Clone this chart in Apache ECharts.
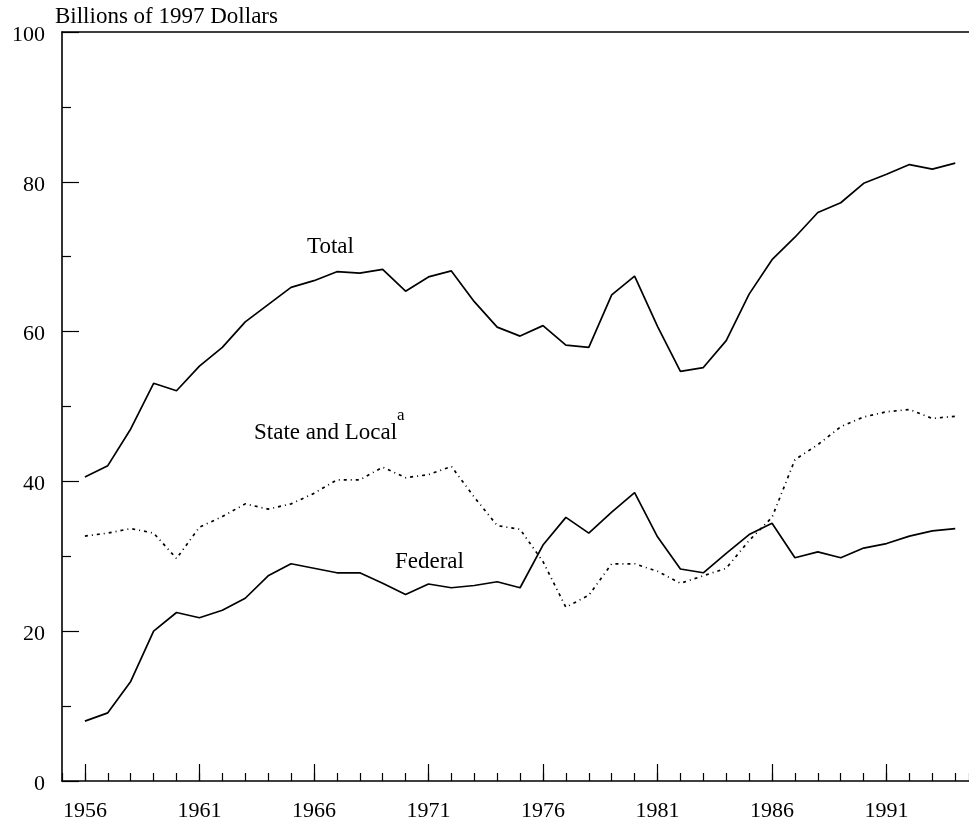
<!DOCTYPE html>
<html>
<head>
<meta charset="utf-8">
<script src="https://cdn.jsdelivr.net/npm/echarts@6/dist/echarts.min.js"></script>
<style>
  html, body { margin: 0; padding: 0; background: #fff; }
  #chart { width: 969px; height: 825px; }
</style>
</head>
<body>
<div id="chart"></div>
<script>
const years = [1956, 1957, 1958, 1959, 1960, 1961, 1962, 1963, 1964, 1965,
  1966, 1967, 1968, 1969, 1970, 1971, 1972, 1973, 1974, 1975,
  1976, 1977, 1978, 1979, 1980, 1981, 1982, 1983, 1984, 1985,
  1986, 1987, 1988, 1989, 1990, 1991, 1992, 1993, 1994];

const total = [40.6, 42.1, 47.0, 53.1, 52.1, 55.4, 57.9, 61.3, 63.6, 65.9,
  66.8, 68.0, 67.8, 68.3, 65.4, 67.3, 68.1, 64.0, 60.6, 59.4,
  60.8, 58.2, 57.9, 64.9, 67.4, 60.7, 54.7, 55.2, 58.8, 65.0,
  69.6, 72.6, 75.9, 77.2, 79.8, 81.0, 82.3, 81.7, 82.5];

const stateLocal = [32.7, 33.1, 33.7, 33.1, 29.7, 33.9, 35.3, 37.0, 36.3, 37.0,
  38.4, 40.2, 40.2, 41.9, 40.5, 40.9, 42.0, 37.9, 34.1, 33.6,
  29.3, 23.2, 24.8, 29.0, 29.0, 28.0, 26.4, 27.4, 28.4, 32.1,
  35.2, 42.9, 44.9, 47.3, 48.6, 49.3, 49.6, 48.4, 48.7];

const federal = [8.0, 9.1, 13.3, 20.0, 22.5, 21.8, 22.8, 24.4, 27.4, 29.0,
  28.4, 27.8, 27.8, 26.4, 24.9, 26.3, 25.8, 26.1, 26.6, 25.8,
  31.5, 35.2, 33.1, 35.9, 38.5, 32.6, 28.3, 27.8, 30.4, 32.9,
  34.4, 29.8, 30.6, 29.8, 31.1, 31.7, 32.7, 33.4, 33.7];

const yTicks = [0, 20, 40, 60, 80, 100];

const FONT = '"Liberation Serif", "DejaVu Serif", serif';
const INK = '#000';

const chart = echarts.init(document.getElementById('chart'));

function pairs(vals) {
  return years.map((y, i) => [y, vals[i]]);
}

function lineSeries(name, vals, dash) {
  return {
    name: name,
    type: 'line',
    xAxisIndex: 0,
    yAxisIndex: 0,
    data: pairs(vals),
    symbol: 'none',
    silent: true,
    animation: false,
    lineStyle: { color: INK, width: 1.7, type: dash || 'solid' },
  };
}

chart.setOption({
  animation: false,
  backgroundColor: '#fff',
  grid: [
    { left: 62, right: 0, top: 32, bottom: 44 },
    // helper grid so that the long ticks and labels sit on 1956, 1961, ...
    { left: 84.9, right: 13.7, top: 32, bottom: 44 },
  ],
  xAxis: [
    {
      type: 'value', gridIndex: 0, position: 'bottom',
      min: 1955, max: 1994.6, interval: 1,
      axisLine: { show: true, lineStyle: { color: INK, width: 1.6 } },
      axisTick: { show: true, inside: true, length: 8, lineStyle: { color: INK, width: 1.2 } },
      axisLabel: { show: false },
      splitLine: { show: false },
    },
    {
      type: 'value', gridIndex: 0, position: 'top',
      min: 1955, max: 1994.6,
      axisLine: { show: true, lineStyle: { color: INK, width: 1.6 } },
      axisTick: { show: false },
      axisLabel: { show: false },
      splitLine: { show: false },
    },
    {
      type: 'category', gridIndex: 1, position: 'bottom',
      data: years.map(String), boundaryGap: false,
      axisLine: { show: false },
      axisTick: {
        show: true, inside: true, length: 17,
        interval: (i) => i % 5 === 0,
        lineStyle: { color: INK, width: 1.2 },
      },
      axisLabel: {
        show: true, interval: (i) => i % 5 === 0,
        color: INK, fontFamily: FONT, fontSize: 22, margin: 19,
      },
      splitLine: { show: false },
    },
  ],
  yAxis: [
    {
      type: 'value', gridIndex: 0,
      min: 0, max: 100, interval: 20,
      axisLine: { show: true, lineStyle: { color: INK, width: 1.6 } },
      axisTick: { show: true, inside: true, length: 17, lineStyle: { color: INK, width: 1.2 } },
      minorTick: { show: true, splitNumber: 2, length: 9, lineStyle: { color: INK, width: 1.2 } },
      axisLabel: {
        color: INK, fontFamily: FONT, fontSize: 22, margin: 17,
        formatter: (v) => (yTicks.indexOf(v) >= 0 ? '{t|' + v + '}' : ''),
        rich: { t: { fontFamily: FONT, fontSize: 22, color: INK, padding: [6, 0, 0, 0] } },
      },
      splitLine: { show: false },
    },
    {
      type: 'value', gridIndex: 1, min: 0, max: 100, show: false,
    },
  ],
  graphic: [
    { type: 'text', left: 55, top: 5, style: { text: 'Billions of 1997 Dollars', font: '23px ' + FONT, fill: INK } },
    { type: 'text', left: 307, top: 235, style: { text: 'Total', font: '23px ' + FONT, fill: INK } },
    { type: 'text', left: 254, top: 421, style: { text: 'State and Local', font: '23px ' + FONT, fill: INK } },
    { type: 'text', left: 397, top: 407, style: { text: 'a', font: '17px ' + FONT, fill: INK } },
    { type: 'text', left: 395, top: 550, style: { text: 'Federal', font: '23px ' + FONT, fill: INK } },
  ],
  series: [
    lineSeries('Total', total),
    lineSeries('State and Local', stateLocal, [3, 4, 1, 4]),
    lineSeries('Federal', federal),
  ],
});
</script>
</body>
</html>
